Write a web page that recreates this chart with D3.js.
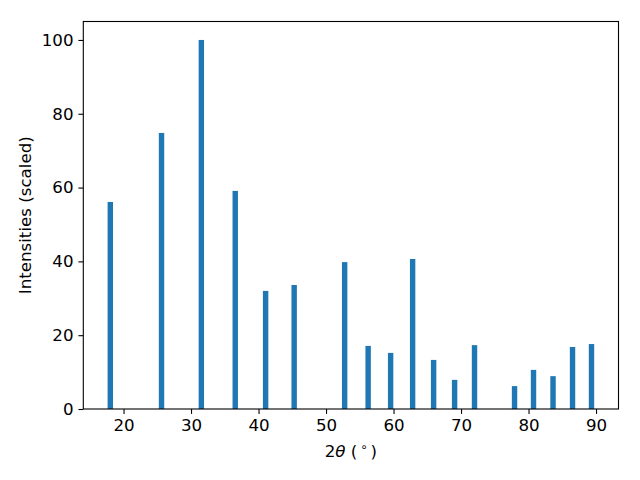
<!DOCTYPE html>
<html>
<head>
<meta charset="utf-8">
<script src="https://cdn.jsdelivr.net/npm/d3@7"></script>
<style>
  body { margin: 0; background: #fff; }
  text { font-family: "DejaVu Sans", sans-serif; fill: #000; }
</style>
</head>
<body>
<div id="chart"></div>
<script>
// peak positions (2theta, degrees) and scaled intensities
const angles = [18.04, 25.63, 31.53, 36.55, 41.05, 45.28, 52.76, 56.24, 59.57, 62.83,
                65.94, 69.05, 72.0, 77.93, 80.74, 83.63, 86.52, 89.33];
const intensities = [56.1, 74.8, 100, 59.1, 32.0, 33.6, 39.8, 17.1, 15.2, 40.65,
                     13.3, 7.9, 17.3, 6.2, 10.6, 8.9, 16.8, 17.6];
const xTicks = [20, 30, 40, 50, 60, 70, 80, 90];
const yTicks = [0, 20, 40, 60, 80, 100];
const barWidth = 0.8;

const w = 640, h = 480;
const margin = { left: 83.3, right: 21.5, top: 21.5, bottom: 71 };
const iw = w - margin.left - margin.right;
const ih = h - margin.top - margin.bottom;
const fs = "16.67px";

const svg = d3.select("#chart").append("svg")
  .attr("width", w)
  .attr("height", h);

const x = d3.scaleLinear().domain([14.04, 93.33]).range([0, iw]);
const y = d3.scaleLinear().domain([0, 105]).range([ih, 0]);

const g = svg.append("g")
  .attr("transform", `translate(${margin.left},${margin.top})`);

// bars
g.selectAll("rect.bar")
  .data(angles)
  .enter().append("rect")
  .attr("class", "bar")
  .attr("x", (d) => x(d - barWidth / 2))
  .attr("width", (d) => x(d + barWidth / 2) - x(d - barWidth / 2))
  .attr("y", (d, i) => y(intensities[i]))
  .attr("height", (d, i) => ih - y(intensities[i]))
  .attr("fill", "#1f77b4");

// axes
const xAxis = g.append("g")
  .attr("transform", `translate(0,${ih})`)
  .call(d3.axisBottom(x).tickValues(xTicks).tickSize(4.9).tickPadding(5.5).tickFormat(d3.format("d")));
const yAxis = g.append("g")
  .call(d3.axisLeft(y).tickValues(yTicks).tickSize(4.9).tickPadding(4.9).tickFormat(d3.format("d")));

[xAxis, yAxis].forEach(function (a) {
  a.select(".domain").remove();
  a.selectAll("line").attr("stroke", "#000").attr("stroke-width", 1.1);
  a.selectAll("text").style("font-size", fs).attr("fill", "#000");
});

// frame
g.append("rect")
  .attr("x", 0).attr("y", 0)
  .attr("width", iw).attr("height", ih)
  .attr("fill", "none")
  .attr("stroke", "#000")
  .attr("stroke-width", 1.1);

// axis labels
const xl = svg.append("text")
  .attr("x", margin.left + iw / 2)
  .attr("y", 457)
  .attr("text-anchor", "middle")
  .style("font-size", fs);
xl.append("tspan").text("2");
xl.append("tspan").style("font-style", "italic").text("θ");
xl.append("tspan").text(" (");
xl.append("tspan").attr("dx", 3).attr("dy", -6).style("font-size", "11.7px").text("∘");
xl.append("tspan").attr("dx", 3).attr("dy", 6).text(")");

svg.append("text")
  .attr("transform", `translate(31,${margin.top + ih / 2}) rotate(-90)`)
  .attr("text-anchor", "middle")
  .style("font-size", fs)
  .text("Intensities (scaled)");
</script>
</body>
</html>
